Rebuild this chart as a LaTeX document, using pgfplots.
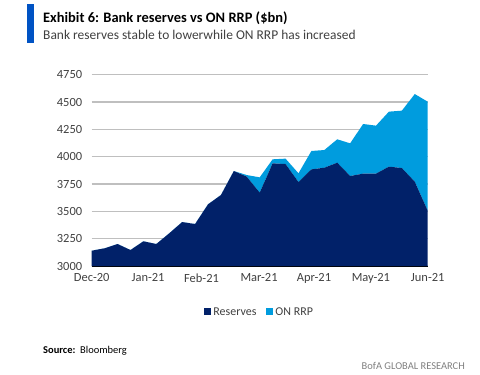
\documentclass[border=0pt]{standalone}
\usepackage{pgfplots}
\pgfplotsset{compat=1.18}
\usepackage{fontspec}
\setmainfont{Carlito}
\definecolor{navy}{RGB}{1,33,105}
\definecolor{lblue}{RGB}{0,156,222}
\definecolor{barblue}{RGB}{0,83,196}
\definecolor{gridgray}{RGB}{191,191,191}
\definecolor{txtgray}{RGB}{64,64,64}
\begin{document}
\begin{tikzpicture}[x=1bp,y=1bp]
\useasboundingbox (0,0) rectangle (480,374);
\fill[barblue] (27,330.7) rectangle (33.5,370);
\node[anchor=base west, inner sep=0, font=\fontsize{14.5}{16}\selectfont\bfseries] at (43,351.3) {Exhibit 6: Bank reserves vs ON RRP (\$bn)};
\node[anchor=base west, inner sep=0, font=\fontsize{13.5}{15}\selectfont, text=txtgray] at (43,334.7) {Bank reserves stable to lowerwhile ON RRP has increased};
\begin{axis}[at={(91.7bp,108bp)}, anchor=south west, scale only axis,
  width=336bp, height=191.3bp,
  xmin=0, xmax=26, ymin=3000, ymax=4750,
  ytick={3000,3250,...,4750},
  xtick={0,4.36,8.5,12.95,17.2,21.6,26},
  xticklabels={Dec-20,Jan-21,Feb-21,Mar-21,Apr-21,May-21,Jun-21},
  ymajorgrids, grid style={gridgray, line width=1.2pt},
  axis x line*=bottom, axis y line*=left,
  y axis line style={draw=none},
  x axis line style={black, line width=0.8pt},
  major tick length=0pt,
  /pgf/number format/1000 sep={},
  /pgf/number format/assume math mode=true,
  tick label style={text=txtgray, font=\fontsize{12.5}{14}\selectfont},
  yticklabel style={xshift=-6bp},
  xticklabel style={yshift=-4bp},
  stack plots=y,
  legend style={at={(0.5,-0.24)}, anchor=center, draw=none, fill=none,
    legend columns=-1, font=\fontsize{12}{14}\selectfont, text=txtgray,
    /tikz/every even column/.append style={column sep=8bp}},
  legend image code/.code={\draw[#1, draw=none] (0bp,-3.5bp) rectangle (7bp,3.5bp);},
  legend cell align=left,
  clip=true,
  axis on top=false,
]
\addplot[fill=navy, draw=none] coordinates {
(0,3140) (1,3162) (2,3201) (3,3146) (4,3226) (5,3201) (6,3299) (7,3402) (8,3384)
(9,3564) (10,3649) (11,3869) (12,3817) (13,3671) (14,3939) (15,3933) (16,3768)
(17,3884) (18,3899) (19,3945) (20,3823) (21,3845) (22,3845) (23,3909) (24,3896)
(25,3771) (26,3506)} \closedcycle;
\addplot[fill=lblue, draw=none] coordinates {
(0,0) (1,0) (2,0) (3,0) (4,0) (5,0) (6,0) (7,0) (8,0) (9,0) (10,0) (11,0)
(12,15) (13,140) (14,37) (15,49) (16,80) (17,168) (18,162) (19,214) (20,299)
(21,454) (22,439) (23,503) (24,525) (25,802) (26,997)} \closedcycle;
\legend{Reserves, ON RRP}
\end{axis}
\node[anchor=base west, inner sep=0, font=\fontsize{10.5}{12}\selectfont] at (43,20.5) {\textbf{Source:}\ \ Bloomberg};
\node[anchor=base east, inner sep=0, font=\fontsize{10.5}{12}\selectfont, text=gray] at (465,5) {BofA GLOBAL RESEARCH};
\end{tikzpicture}
\end{document}
